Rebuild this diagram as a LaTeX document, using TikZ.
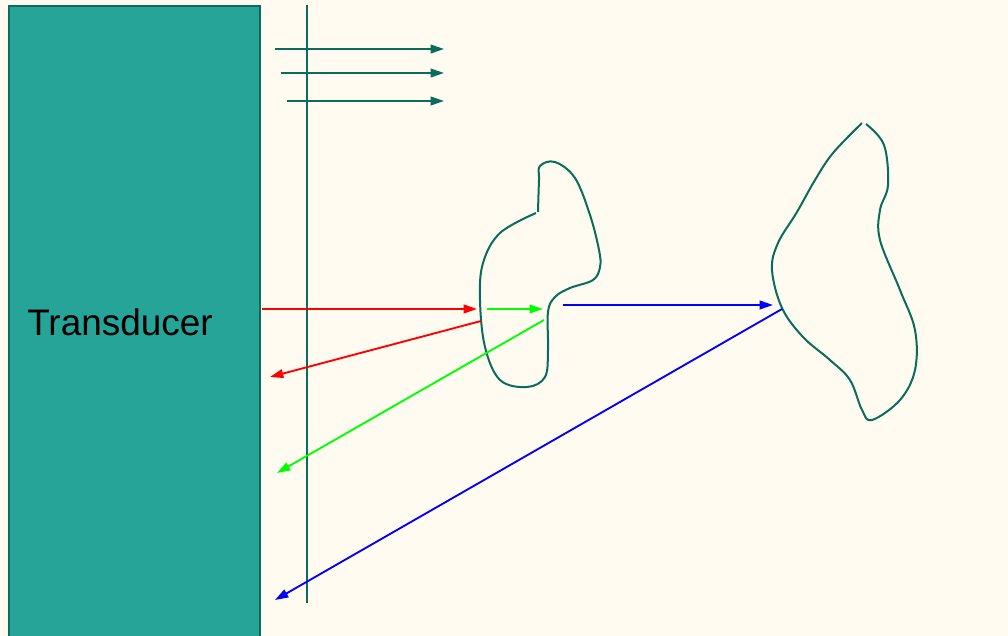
\documentclass[tikz,border=0pt]{standalone}
\usepackage{fontspec}
\setmainfont{Liberation Sans}
\usetikzlibrary{arrows.meta, positioning, calc}
\definecolor{cream}{RGB}{255, 251, 240}
\definecolor{myteal}{RGB}{38, 164, 152}
\definecolor{darkteal}{RGB}{10, 108, 92}
\definecolor{myred}{RGB}{255, 0, 0}
\definecolor{mygreen}{RGB}{0, 255, 0}
\definecolor{myblue}{RGB}{0, 0, 255}

\begin{document}
\begin{tikzpicture}[x=0.75pt, y=-0.75pt,
    ray/.style={line width=1.4pt, -{Triangle[length=10pt, width=6.5pt]}},
    echo/.style={line width=1.4pt, -{Triangle[length=10pt, width=6.5pt]}},
    blob/.style={darkteal, line width=1.5pt}]
                % Background
                \fill[cream] (0,0) rectangle (1008,636);
                \useasboundingbox (0,0) rectangle (1008,636);
                % Transducer
                \node[draw=darkteal, line width=1.5pt, fill=myteal, inner sep=0, minimum width=188.25pt, minimum height=480pt, anchor=north west] (trans) at (8,5) {};
                \node[font=\fontsize{27.7}{33}\selectfont] (label) at (120,322) {Transducer};
                % Wavefront
                \coordinate (wtop) at (307,5);
                \coordinate (wbot) at (307,603);
                \draw[darkteal, line width=1.5pt] (wtop) -- (wbot);
                % Plane wave
                \foreach \y/\x in {49/275, 73/281, 101/287} {
                    \coordinate (ps\y) at (\x,\y);
                    \coordinate (pe\y) at (444,\y);
                    \draw[ray, darkteal] (ps\y) -- (pe\y);
                }
                % First scatterer
                \draw[blob] plot[smooth, tension=0.6] coordinates {(538,212) (539,180) (540,166) (555,162) (575,178) (590,215) (599,250) (600,267) (593,280) (570,288) (555,297) (548,312) (548,350) (545,377) (527,387) (500,380) (485,347) (480,300) (483,263) (500,233) (536,213)};
                % Second scatterer
                \draw[blob] plot[smooth, tension=0.6] coordinates {(862,123) (833,153) (815,180) (797,212) (778,243) (772,270) (782,308) (803,337) (830,360) (850,380) (862,410) (872,420) (900,400) (915,370) (915,330) (900,290) (880,240) (880,210) (888,185) (884,145) (866,124)};
                % Red
                \coordinate (r1) at (262,309);
                \coordinate (r2) at (477,309);
                \coordinate (r3) at (481,321);
                \coordinate (r4) at (270,377);
                \draw[ray, myred] (r1) -- (r2);
                \draw[echo, myred] (r3) -- (r4);
                % Green
                \coordinate (g1) at (487,309);
                \coordinate (g2) at (543,309);
                \coordinate (g3) at (544,320);
                \coordinate (g4) at (277,473);
                \draw[ray, mygreen] (g1) -- (g2);
                \draw[echo, mygreen] (g3) -- (g4);
                % Blue
                \coordinate (b1) at (563,305);
                \coordinate (b2) at (773,305);
                \coordinate (b3) at (782,309);
                \coordinate (b4) at (275,600);
                \draw[ray, myblue] (b1) -- (b2);
                \draw[echo, myblue] (b3) -- (b4);
            \end{tikzpicture}
\end{document}
